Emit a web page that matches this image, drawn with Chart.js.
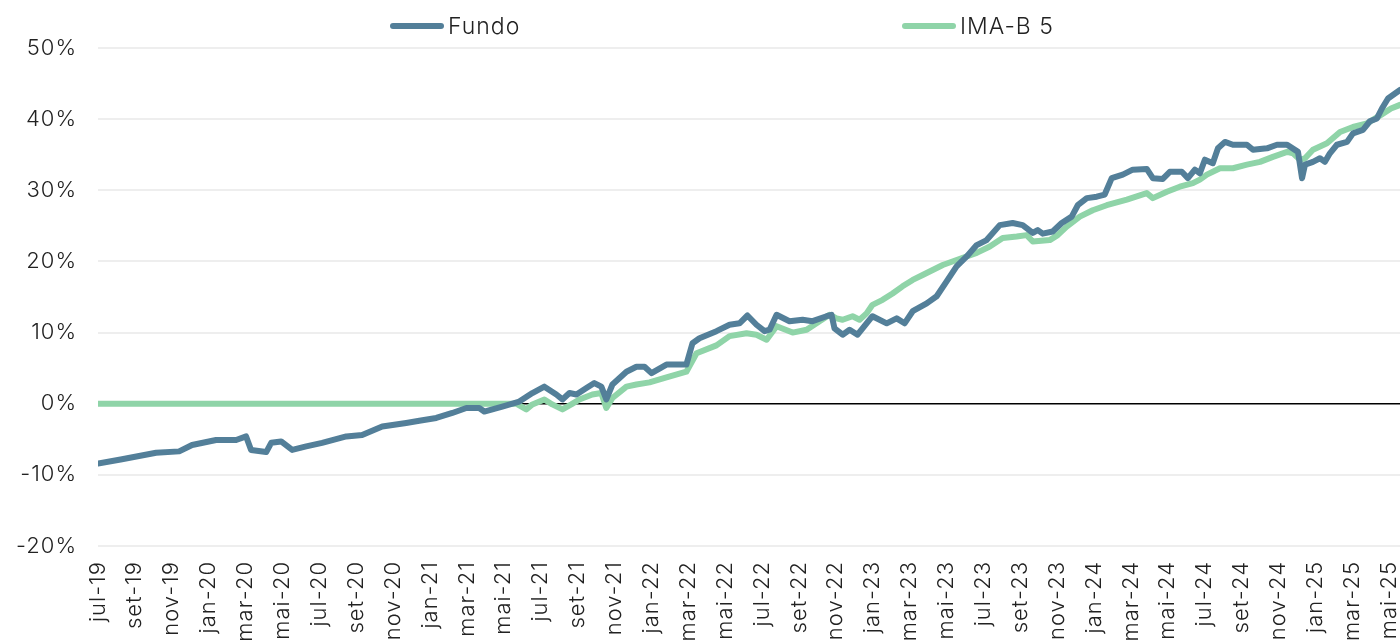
<!DOCTYPE html>
<html>
<head>
<meta charset="utf-8">
<script src="https://cdn.jsdelivr.net/npm/chart.js@4.4.1/dist/chart.umd.min.js"></script>
<style>
  html, body { margin: 0; padding: 0; background: #fff; overflow: hidden; }
  #wrap { position: relative; width: 1400px; height: 642px; }
  #legend { position: absolute; left: 0; top: 0; width: 1400px; height: 50px; font-family: Inter, "Liberation Sans", sans-serif; font-weight: 300; font-size: 23px; letter-spacing: 1px; color: #222; }
  .item { position: absolute; top: 13px; display: flex; align-items: center; height: 26px; }
  .swatch { width: 54px; height: 6px; border-radius: 3px; margin-right: 4px; }
</style>
</head>
<body>
<div id="wrap">
  <canvas id="c" width="1400" height="642"></canvas>
  <div id="legend"></div>
</div>
<script>
// ---- data (months since jul-19, cumulative return in %) ----
const tickLabels = ['jul-19','set-19','nov-19','jan-20','mar-20','mai-20','jul-20','set-20','nov-20','jan-21','mar-21','mai-21','jul-21','set-21','nov-21','jan-22','mar-22','mai-22','jul-22','set-22','nov-22','jan-23','mar-23','mai-23','jul-23','set-23','nov-23','jan-24','mar-24','mai-24','jul-24','set-24','nov-24','jan-25','mar-25','mai-25'];

const seriesNames = ['Fundo', 'IMA-B 5'];
const seriesColors = ['#537f99', '#8fd4a8'];

const fundoMonths = [0,1.30,3.15,4.40,5.10,6.40,7.49,8.03,8.30,9.12,9.39,9.93,10.53,11.29,12.15,13.46,14.32,15.41,16.71,17.42,18.34,19.21,19.97,20.67,20.94,21.92,22.84,23.55,24.20,24.85,25.18,25.56,25.94,26.48,26.91,27.29,27.56,27.89,28.65,29.19,29.63,30.01,30.82,31.90,32.23,32.61,33.53,34.24,34.78,35.21,35.70,36.14,36.41,36.79,37.49,38.20,38.74,39.50,39.77,39.93,40.37,40.75,41.18,41.67,41.99,42.76,43.30,43.73,44.17,44.93,45.47,46.01,46.55,47.10,47.64,48.18,48.89,49.59,50.13,50.68,50.95,51.22,51.76,52.25,52.79,53.12,53.61,54.15,54.58,54.96,55.56,56.10,56.86,57.19,57.73,58.11,58.76,59.09,59.47,59.74,60.01,60.44,60.72,61.10,61.53,62.29,62.62,63.38,63.92,64.47,65.06,65.28,65.44,65.87,66.25,66.52,66.79,67.17,67.72,68.04,68.58,68.96,69.34,69.61,69.94,70.32,70.59];
const fundoValues = [-8.4,-7.8,-6.9,-6.7,-5.8,-5.1,-5.1,-4.6,-6.5,-6.8,-5.5,-5.3,-6.5,-6.0,-5.5,-4.6,-4.4,-3.2,-2.7,-2.4,-2.0,-1.3,-0.6,-0.6,-1.1,-0.4,0.3,1.5,2.4,1.3,0.6,1.5,1.3,2.2,2.9,2.4,0.6,2.7,4.5,5.2,5.2,4.3,5.5,5.5,8.5,9.2,10.2,11.1,11.3,12.4,11.1,10.2,10.4,12.5,11.6,11.8,11.6,12.3,12.5,10.6,9.7,10.4,9.7,11.3,12.3,11.3,12.0,11.3,13.0,14.1,15.1,17.2,19.3,20.7,22.3,23.0,25.1,25.4,25.1,24.0,24.4,23.9,24.2,25.4,26.3,27.9,28.9,29.1,29.4,31.7,32.2,32.9,33.0,31.7,31.6,32.6,32.6,31.7,32.9,32.4,34.3,33.8,35.9,36.8,36.4,36.4,35.7,35.9,36.4,36.4,35.4,31.7,33.6,34.0,34.5,34.0,35.2,36.4,36.8,38.0,38.5,39.7,40.1,41.5,42.9,43.6,44.1];

const imaMonths = [0,22.68,23.22,23.55,24.20,24.63,25.18,25.66,26.10,26.80,27.29,27.56,27.89,28.65,29.19,29.90,30.82,31.90,32.45,33.53,34.24,35.16,35.70,36.25,36.79,37.66,38.42,39.12,39.66,40.04,40.37,40.91,41.29,41.67,41.99,42.54,43.08,43.62,44.17,44.71,45.80,46.55,47.64,48.35,49.05,49.81,50.35,50.68,51.60,52.03,52.52,53.23,53.93,54.69,55.78,56.86,57.19,57.95,58.65,59.36,59.74,60.12,60.83,61.53,62.29,63.00,63.70,64.47,64.79,65.17,65.44,65.87,66.63,67.34,68.04,68.80,69.56,70.10,70.59];
const imaValues = [0,0,-0.8,-0.1,0.6,-0.1,-0.8,-0.1,0.6,1.3,1.5,-0.6,0.8,2.4,2.7,3.0,3.7,4.5,7.1,8.2,9.5,9.9,9.7,9.0,10.9,10.0,10.4,11.6,12.5,12.0,11.8,12.3,11.8,12.7,13.9,14.6,15.5,16.5,17.4,18.1,19.5,20.2,21.2,22.1,23.3,23.5,23.7,22.8,23.0,23.7,24.9,26.3,27.2,27.9,28.7,29.6,28.9,29.8,30.5,31.0,31.5,32.2,33.1,33.1,33.6,34.0,34.7,35.4,35.2,34.3,34.5,35.7,36.6,38.2,38.9,39.4,40.6,41.5,42.0];

const yTicks = [-20,-10,0,10,20,30,40,50];

// ---- legend (HTML text) ----
const legendPos = [390, 902];
const legend = document.getElementById('legend');
seriesNames.forEach((n, i) => {
  const it = document.createElement('div');
  it.className = 'item';
  it.style.left = legendPos[i] + 'px';
  const sw = document.createElement('span');
  sw.className = 'swatch';
  sw.style.background = seriesColors[i];
  const tx = document.createElement('span');
  tx.textContent = n;
  it.appendChild(sw); it.appendChild(tx);
  legend.appendChild(it);
});

const toPts = (xs, ys) => xs.map((x, i) => ({x: x, y: ys[i]}));
const FONT = "Inter, 'Liberation Sans', sans-serif";

const spacingPlugin = {
  id: 'spacing',
  beforeDraw: ch => { ch.ctx.letterSpacing = '1px'; }
};

new Chart(document.getElementById('c'), {
  type: 'line',
  data: {
    datasets: [
      { label: seriesNames[0], data: toPts(fundoMonths, fundoValues), borderColor: seriesColors[0], backgroundColor: seriesColors[0], borderWidth: 6, pointRadius: 0, tension: 0, borderJoinStyle: 'round', borderCapStyle: 'round' },
      { label: seriesNames[1], data: toPts(imaMonths, imaValues), borderColor: seriesColors[1], backgroundColor: seriesColors[1], borderWidth: 6, pointRadius: 0, tension: 0, borderJoinStyle: 'round', borderCapStyle: 'round' }
    ]
  },
  plugins: [spacingPlugin],
  options: {
    responsive: false,
    animation: false,
    layout: { padding: { top: 48, right: 0, bottom: 0, left: 0 } },
    plugins: { legend: { display: false }, tooltip: { enabled: false } },
    scales: {
      x: {
        type: 'linear', min: 0, max: 70.59,
        grid: { display: false, drawTicks: false },
        border: { display: false },
        afterBuildTicks: s => { s.ticks = tickLabels.map((_, i) => ({ value: i * 2 })); },
        afterFit: s => { s.height = 96; s.paddingLeft = 0; s.paddingRight = 0; },
        ticks: {
          autoSkip: false, maxRotation: 90, minRotation: 90, padding: 15,
          color: '#222', font: { family: FONT, size: 22, weight: 300 },
          callback: v => tickLabels[Math.round(v / 2)]
        }
      },
      y: {
        min: -20, max: 50,
        afterBuildTicks: s => { s.ticks = yTicks.map(v => ({ value: v })); },
        afterFit: s => { s.width = 98; },
        grid: {
          drawTicks: false,
          color: c => c.tick && c.tick.value === 0 ? '#000' : '#eeeeee',
          lineWidth: c => c.tick && c.tick.value === 0 ? 1.5 : 2
        },
        border: { display: false },
        ticks: { padding: 21, color: '#222', font: { family: FONT, size: 22, weight: 300 }, callback: v => v + '%' }
      }
    }
  }
});
</script>
</body>
</html>
